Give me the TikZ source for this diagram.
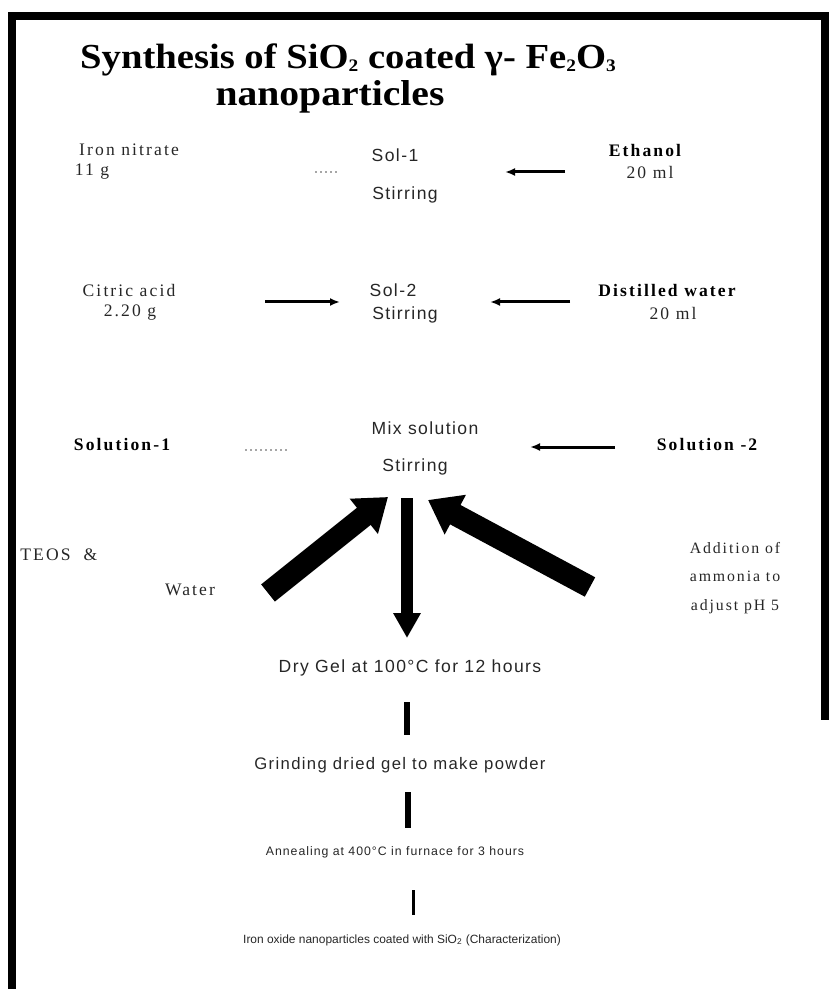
\documentclass[tikz,border=0pt]{standalone}
\usepackage{fontspec}
\setmainfont{Liberation Serif}
\setsansfont{Liberation Sans}
\newfontfamily\ttlfont{Liberation Serif}[FakeStretch=1.1]
\newfontfamily\lblfont{Liberation Serif}[LetterSpace=12]
\newfontfamily\procfont{Liberation Sans}[LetterSpace=8]
\newcommand\lowidx[1]{\raisebox{-1.5pt}{\fontsize{10}{10}\selectfont #1}}
\usetikzlibrary{arrows.meta}

\begin{document}
\begin{tikzpicture}[x=0.02cm, y=-0.02cm,
    lbl/.style={font=\lblfont\fontsize{10}{11}\selectfont, text=black!85, inner sep=0pt},
    blbl/.style={font=\lblfont\bfseries\fontsize{10}{11}\selectfont, inner sep=0pt},
    proc/.style={font=\procfont\fontsize{10}{11}\selectfont, text=black!85, inner sep=0pt},
    thin/.style={line width=0.06cm, -{Latex[length=0.2cm,width=0.16cm]}},
    faint/.style={black!35, dotted, line width=0.03cm},
    fat/.style={line width=0.44cm, -{Triangle[length=0.62cm,width=0.86cm]}},
    bar/.style={line width=0.11cm}]
    \useasboundingbox (0,0) rectangle (829,989);
    % frame
    \draw[line width=0.16cm] (12,989) -- (12,16) -- (825,16) -- (825,720);
    % title
    \node[font=\ttlfont\bfseries\fontsize{20}{24}\selectfont, anchor=west] (title) at (74,60)
      {Synthesis of SiO\lowidx{2} coated γ- Fe\lowidx{2}O\lowidx{3}};
    \node[font=\ttlfont\bfseries\fontsize{20.5}{24}\selectfont] (title2) at (330,97) {nanoparticles};
    % row 1
    \node[lbl] (iron) at (129,150) {Iron nitrate};
    \node[lbl] (ironm) at (92,172) {11 g};
    \node[proc] (sol1) at (395,155) {Sol-1};
    \node[proc] (stir1) at (405,195) {Stirring};
    \node[blbl] (eth) at (645,150) {Ethanol};
    \node[lbl] (ethm) at (650,172) {20 ml};
    \coordinate (e1) at (565,172);
    \coordinate (e2) at (505,172);
    \coordinate (i1) at (315,172);
    \coordinate (i2) at (338,172);
    \draw[thin] (e1) -- (e2);
    \draw[faint] (i1) -- (i2);
    % row 2
    \node[lbl] (cit) at (129,290) {Citric acid};
    \node[lbl] (citm) at (130,313) {2.20 g};
    \node[proc] (sol2) at (393,290) {Sol-2};
    \node[proc] (stir2) at (405,315) {Stirring};
    \node[blbl] (dw) at (667,290) {Distilled water};
    \node[lbl] (dwm) at (673,313) {20 ml};
    \coordinate (c1) at (265,302);
    \coordinate (c2) at (340,302);
    \coordinate (d1) at (570,302);
    \coordinate (d2) at (490,302);
    \draw[thin] (c1) -- (c2);
    \draw[thin] (d1) -- (d2);
    % row 3
    \node[blbl] (s1) at (122,445) {Solution-1};
    \node[proc] (mix) at (425,428) {Mix solution};
    \node[proc] (stir3) at (415,467) {Stirring};
    \node[blbl] (s2) at (707,445) {Solution -2};
    \coordinate (m1) at (615,447);
    \coordinate (m2) at (530,447);
    \coordinate (f1) at (245,450);
    \coordinate (f2) at (290,450);
    \draw[thin] (m1) -- (m2);
    \draw[faint] (f1) -- (f2);
    % additions
    \node[lbl, anchor=west] (teos) at (20,555) {TEOS \ \&};
    \node[lbl] (wat) at (190,590) {Water};
    \node[lbl, font=\lblfont\fontsize{9}{10}\selectfont, align=center] (amm) at (735,578)
      {Addition of\\[6pt]ammonia to\\[6pt]adjust pH 5};
    \coordinate (tl) at (268,593);
    \coordinate (hl) at (388,497);
    \coordinate (tr) at (590,587);
    \coordinate (hr) at (428,500);
    \coordinate (tc) at (407,498);
    \coordinate (hc) at (407,638);
    \draw[fat] (tl) -- (hl);
    \draw[fat] (tr) -- (hr);
    \draw[line width=0.24cm, -{Triangle[length=0.5cm,width=0.52cm]}] (tc) -- (hc);
    % process chain
    \node[proc] (dry) at (410,668) {Dry Gel at 100°C for 12 hours};
    \node[proc, font=\procfont\fontsize{9.5}{11}\selectfont] (grind) at (400,765) {Grinding dried gel to make powder};
    \node[proc, font=\procfont\fontsize{7}{8}\selectfont] (ann) at (395,852) {Annealing at 400°C in furnace for 3 hours};
    \node[proc, font=\sffamily\fontsize{6.8}{8}\selectfont] (fin) at (402,940)
      {Iron oxide nanoparticles coated with SiO\textsubscript{2} (Characterization)};
    \coordinate (b1) at (407,702);
    \coordinate (b2) at (407,735);
    \coordinate (b3) at (408,792);
    \coordinate (b4) at (408,828);
    \coordinate (b5) at (413,890);
    \coordinate (b6) at (413,915);
    \draw[bar] (b1) -- (b2);
    \draw[bar] (b3) -- (b4);
    \draw[line width=0.06cm] (b5) -- (b6);
\end{tikzpicture}
\end{document}
